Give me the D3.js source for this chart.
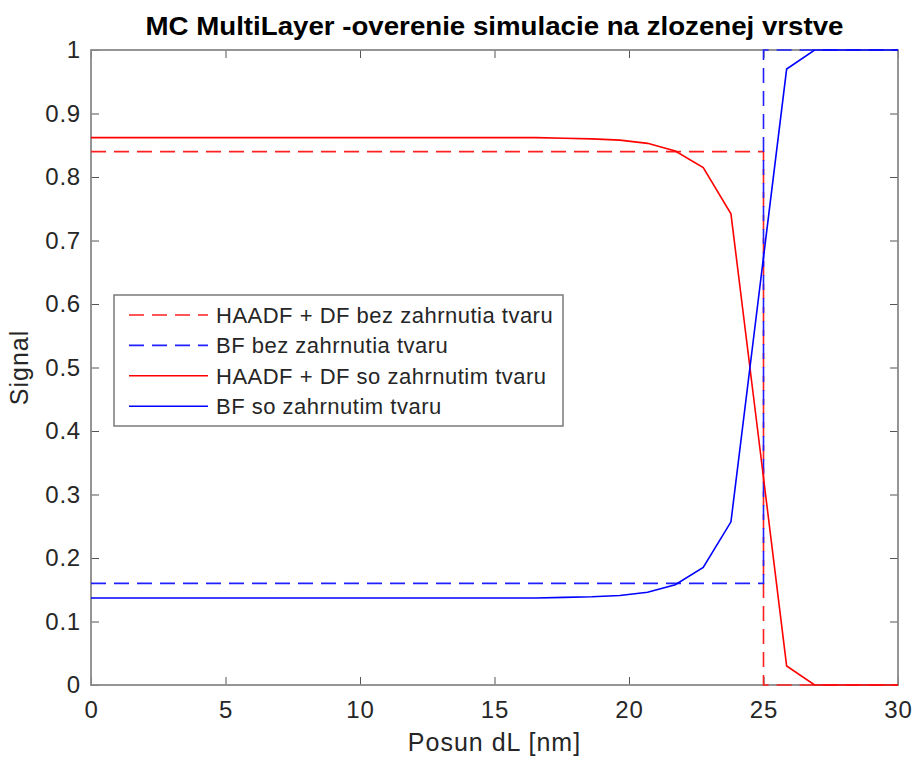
<!DOCTYPE html>
<html>
<head>
<meta charset="utf-8">
<script src="https://cdn.jsdelivr.net/npm/d3@7"></script>
<style>
  body { margin: 0; background: #fff; }
  text { font-family: "Liberation Sans", Arial, Helvetica, sans-serif; }
</style>
</head>
<body>
<div id="chart"></div>
<script>
// data
const posun = [0, 1.03, 2.07, 3.10, 4.14, 5.17, 6.21, 7.24, 8.28, 9.31, 10.34, 11.38, 12.41, 13.45, 14.48,
    15.52, 16.55, 17.59, 18.62, 19.66, 20.69, 21.72, 22.76, 23.79, 24.83, 25.86, 26.90, 27.93, 28.97, 30]
const haadfTvar = [0.862, 0.862, 0.862, 0.862, 0.862, 0.862, 0.862, 0.862, 0.862, 0.862, 0.862, 0.862, 0.862, 0.862, 0.862,
    0.862, 0.862, 0.861, 0.860, 0.858, 0.853, 0.841, 0.815, 0.742, 0.385, 0.030, 0, 0, 0, 0]
const bfTvar = [0.137, 0.137, 0.137, 0.137, 0.137, 0.137, 0.137, 0.137, 0.137, 0.137, 0.137, 0.137, 0.137, 0.137, 0.137,
    0.137, 0.137, 0.138, 0.139, 0.141, 0.146, 0.158, 0.185, 0.257, 0.615, 0.970, 1, 1, 1, 1]
const posunBez = [0, 25, 25, 30]
const haadfBez = [0.84, 0.84, 0, 0]
const bfBez = [0.16, 0.16, 1, 1]

const xTicks = [0, 5, 10, 15, 20, 25, 30]
const yTicks = [0, 0.1, 0.2, 0.3, 0.4, 0.5, 0.6, 0.7, 0.8, 0.9, 1]
const yTickLabels = ["0", "0.1", "0.2", "0.3", "0.4", "0.5", "0.6", "0.7", "0.8", "0.9", "1"]
const legendLabels = ["HAADF + DF bez zahrnutia tvaru", "BF bez zahrnutia tvaru",
    "HAADF + DF so zahrnutim tvaru", "BF so zahrnutim tvaru"]

const width = 913
const height = 763
const margin = { left: 91, right: 15, top: 50, bottom: 78 }

const svg = d3.select("#chart")
    .append("svg")
    .attr("width", width)
    .attr("height", height)

const x = d3.scaleLinear().domain([0, 30]).range([margin.left, width - margin.right])
const y = d3.scaleLinear().domain([0, 1]).range([height - margin.bottom, margin.top])

const axisColor = "#8a8a8a"
const textColor = "#262626"

// axes (ticks inward, on all four sides)
function styleAxis(g) {
    g.select(".domain").remove()
    g.selectAll(".tick line").attr("stroke", "#555").attr("stroke-width", 1)
    g.selectAll(".tick text")
        .attr("fill", textColor)
        .style("font-size", "24px")
        .style("letter-spacing", "0.8px")
}

svg.append("g")
    .attr("transform", `translate(0,${y(0)})`)
    .call(d3.axisBottom(x).tickValues(xTicks).tickFormat(d3.format("d"))
        .tickSizeInner(-8).tickSizeOuter(0).tickPadding(16))
    .call(styleAxis)

svg.append("g")
    .attr("transform", `translate(0,${y(1)})`)
    .call(d3.axisTop(x).tickValues(xTicks).tickFormat("")
        .tickSizeInner(-8).tickSizeOuter(0))
    .call(styleAxis)

svg.append("g")
    .attr("transform", `translate(${x(0)},0)`)
    .call(d3.axisLeft(y).tickValues(yTicks).tickFormat((d, i) => yTickLabels[i])
        .tickSizeInner(-8).tickSizeOuter(0).tickPadding(10))
    .call(styleAxis)

svg.append("g")
    .attr("transform", `translate(${x(30)},0)`)
    .call(d3.axisRight(y).tickValues(yTicks).tickFormat("")
        .tickSizeInner(-8).tickSizeOuter(0))
    .call(styleAxis)

svg.append("rect")
    .attr("x", x(0))
    .attr("y", y(1))
    .attr("width", x(30) - x(0))
    .attr("height", y(0) - y(1))
    .attr("fill", "none")
    .attr("stroke", axisColor)
    .attr("stroke-width", 1.8)

// lines
const line = d3.line().x(d => x(d[0])).y(d => y(d[1]))

const series = [
    { xs: posunBez, ys: haadfBez, color: "#ff2020", dash: "15,8" },
    { xs: posunBez, ys: bfBez, color: "#2020ff", dash: "15,8" },
    { xs: posun, ys: haadfTvar, color: "#ff0000", dash: null },
    { xs: posun, ys: bfTvar, color: "#0000ff", dash: null }
]

series.forEach(function (s) {
    svg.append("path")
        .datum(d3.zip(s.xs, s.ys))
        .attr("d", line)
        .attr("fill", "none")
        .attr("stroke", s.color)
        .attr("stroke-width", 1.6)
        .attr("stroke-dasharray", s.dash)
})

// labels
svg.append("text")
    .attr("x", (x(0) + x(30)) / 2)
    .attr("y", 35)
    .attr("text-anchor", "middle")
    .attr("textLength", 698)
    .attr("lengthAdjust", "spacingAndGlyphs")
    .style("font-size", "26px")
    .style("font-weight", "bold")
    .attr("fill", "#000")
    .text("MC MultiLayer -overenie simulacie na zlozenej vrstve")

svg.append("text")
    .attr("x", (x(0) + x(30)) / 2)
    .attr("y", 751)
    .attr("text-anchor", "middle")
    .style("font-size", "25px")
    .style("letter-spacing", "1px")
    .attr("fill", textColor)
    .text("Posun dL [nm]")

svg.append("text")
    .attr("transform", `translate(28,${(y(0) + y(1)) / 2}) rotate(-90)`)
    .attr("text-anchor", "middle")
    .style("font-size", "25px")
    .style("letter-spacing", "1px")
    .attr("fill", textColor)
    .text("Signal")

// legend
const legend = svg.append("g")

legend.append("rect")
    .attr("x", 114)
    .attr("y", 295)
    .attr("width", 449)
    .attr("height", 131)
    .attr("fill", "#fff")
    .attr("stroke", "#7a7a7a")
    .attr("stroke-width", 1.5)

legendLabels.forEach(function (label, i) {
    const cy = 315 + i * 30.4
    const s = series[i]
    legend.append("line")
        .attr("x1", 129).attr("x2", 208)
        .attr("y1", cy).attr("y2", cy)
        .attr("stroke", s.color)
        .attr("stroke-width", 1.6)
        .attr("stroke-dasharray", s.dash)
    legend.append("text")
        .attr("x", 216)
        .attr("y", cy)
        .attr("dy", "0.35em")
        .style("font-size", "22px")
        .style("letter-spacing", "0.5px")
        .attr("fill", textColor)
        .text(label)
})
</script>
</body>
</html>
